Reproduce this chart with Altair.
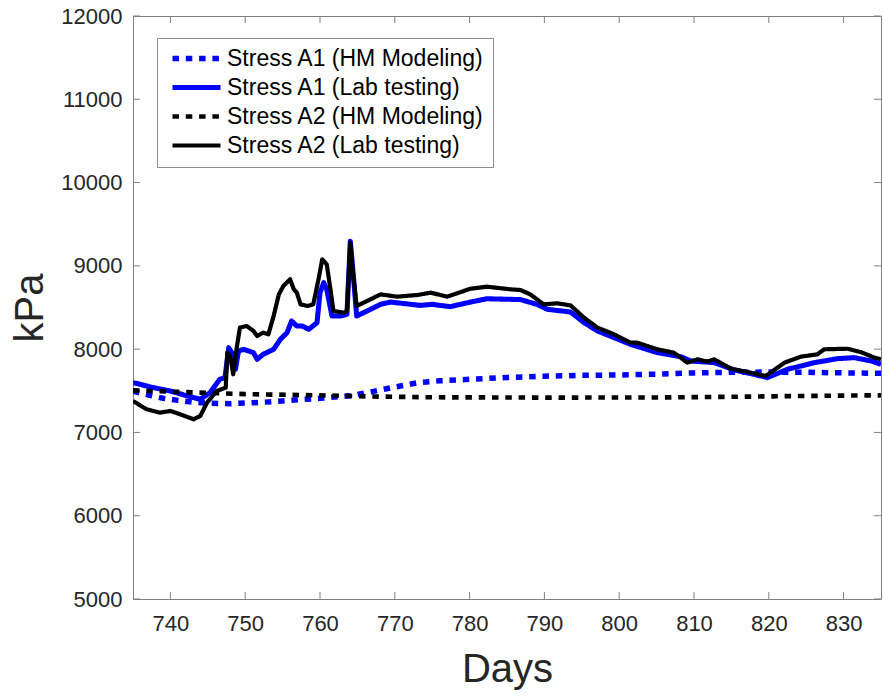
import altair as alt
import pandas as pd

# ---------------- data ----------------
names = [
    "Stress A1 (HM Modeling)",
    "Stress A1 (Lab testing)",
    "Stress A2 (HM Modeling)",
    "Stress A2 (Lab testing)",
]
colors = ["#0000ff", "#0000ff", "#000000", "#000000"]

a1_hm_days = [735, 737, 739, 741, 743, 745, 748, 752, 756, 760, 764, 767, 770, 773, 776, 780,
              785, 790, 795, 800, 805, 810, 815, 820, 825, 830, 835]
a1_hm_kpa = [7495, 7450, 7410, 7385, 7365, 7350, 7345, 7360, 7385, 7410, 7440, 7490, 7545, 7595,
             7620, 7638, 7660, 7675, 7685, 7690, 7700, 7715, 7722, 7725, 7722, 7715, 7710]

a2_hm_days = [735, 740, 745, 750, 760, 768, 775, 790, 805, 815, 825, 835]
a2_hm_kpa = [7505, 7490, 7475, 7460, 7445, 7430, 7422, 7418, 7420, 7428, 7438, 7446]

a1_lab_days = [735.0, 736.3, 737.7, 740.0, 742.0, 743.1, 744.0, 745.3, 746.6, 747.3, 747.8, 748.2,
               748.7, 749.1, 749.8, 751.1, 751.6, 752.4, 753.8, 754.7, 755.6, 756.2, 756.9, 757.6,
               758.5, 759.6, 760.0, 760.5, 760.9, 761.6, 762.7, 763.6, 764.05, 764.5, 764.9, 766.3,
               768.1, 769.4, 771.5, 773.4, 775.0, 777.4, 780.1, 782.3, 786.8, 789.0, 790.4, 793.5,
               795.3, 797.1, 799.3, 801.5, 805.1, 808.2, 809.6, 812.7, 815.4, 818.0, 819.8, 822.5,
               826.1, 829.2, 831.4, 833.7, 835.0]
a1_lab_kpa = [7598, 7570, 7538, 7497, 7445, 7418, 7398, 7478, 7638, 7658, 8018, 7958,
              7758, 7978, 7998, 7958, 7878, 7938, 7998, 8118, 8198, 8338, 8278, 8278,
              8238, 8318, 8678, 8798, 8718, 8398, 8398, 8418, 9296, 8838, 8398, 8458,
              8538, 8565, 8545, 8525, 8538, 8510, 8565, 8605, 8595, 8538, 8478, 8446,
              8318, 8218, 8138, 8058, 7958, 7910, 7858, 7838, 7750, 7698, 7658, 7758,
              7838, 7886, 7898, 7858, 7818]

a2_lab_days = [735.0, 736.8, 738.6, 740.0, 741.3, 743.1, 744.0, 744.9, 746.2, 747.4, 747.6, 748.0,
               748.4, 748.9, 749.3, 750.2, 751.1, 751.6, 752.4, 753.1, 753.8, 754.5, 755.1, 756.0,
               756.5, 756.9, 757.4, 758.3, 759.1, 759.8, 760.3, 760.9, 761.4, 761.8, 763.2, 763.6,
               764.05, 764.5, 764.9, 766.3, 768.1, 770.3, 773.0, 774.8, 777.0, 780.1, 782.3, 785.5,
               786.8, 788.1, 789.9, 791.7, 793.5, 795.3, 797.1, 799.3, 801.5, 802.4, 805.1, 807.3,
               809.1, 810.5, 811.8, 812.7, 814.9, 817.2, 819.6, 822.1, 824.3, 826.5, 827.4, 830.5,
               832.3, 834.1, 835.0]
a2_lab_kpa = [7378, 7278, 7238, 7258, 7218, 7158, 7198, 7358, 7498, 7538, 7958, 7918,
              7698, 8038, 8258, 8278, 8218, 8158, 8198, 8178, 8398, 8658, 8758, 8838,
              8718, 8678, 8538, 8518, 8538, 8838, 9078, 9018, 8718, 8458, 8438, 8458,
              9278, 8838, 8518, 8578, 8658, 8630, 8650, 8678, 8630, 8725, 8750, 8718,
              8710, 8658, 8538, 8550, 8525, 8378, 8258, 8178, 8078, 8078, 7998, 7958,
              7838, 7878, 7850, 7878, 7766, 7725, 7678, 7838, 7910, 7938, 7998, 8005,
              7965, 7898, 7878]

x_ticks = [740, 750, 760, 770, 780, 790, 800, 810, 820, 830]
y_ticks = [5000, 6000, 7000, 8000, 9000, 10000, 11000, 12000]

# ---------------- build table ----------------
frames = []
for i, (d, v) in enumerate([(a1_hm_days, a1_hm_kpa), (a1_lab_days, a1_lab_kpa),
                            (a2_hm_days, a2_hm_kpa), (a2_lab_days, a2_lab_kpa)]):
    frames.append(pd.DataFrame({"day": d, "kpa": v, "series": names[i], "k": i}))
df = pd.concat(frames, ignore_index=True)

W, H = 748, 583
FONT = "Liberation Sans"
AX = "#808080"
TL = 7

xscale = alt.Scale(domain=[735, 835], nice=False, zero=False)
yscale = alt.Scale(domain=[5000, 12000], nice=False, zero=False)
x_axis = alt.Axis(values=x_ticks, title="Days", format="d", labelPadding=14, titlePadding=15)
y_axis = alt.Axis(values=y_ticks, title="kPa", format="d", labelPadding=11, titlePadding=10)

dot = [6.5, 6.8]
solid = [1, 0]

lines = alt.Chart(df).mark_line(clip=True, strokeCap="butt", strokeJoin="round").encode(
    x=alt.X("day:Q", scale=xscale, axis=x_axis),
    y=alt.Y("kpa:Q", scale=yscale, axis=y_axis),
    color=alt.Color("series:N", scale=alt.Scale(domain=names, range=colors),
                    legend=alt.Legend(title=None)),
    strokeDash=alt.StrokeDash("series:N", scale=alt.Scale(domain=names, range=[dot, solid, dot, solid]),
                              legend=alt.Legend(title=None)),
    strokeWidth=alt.StrokeWidth("series:N", scale=alt.Scale(domain=names, range=[5.5, 4.2, 5.5, 4.2]),
                                legend=alt.Legend(title=None)),
    order=alt.Order("k:Q"),
)

xt = pd.DataFrame({"day": x_ticks})
yt = pd.DataFrame({"kpa": y_ticks})

bottom_ticks = alt.Chart(xt).mark_rule(color=AX, strokeWidth=1).encode(
    x=alt.X("day:Q", scale=xscale, axis=x_axis), y=alt.value(H), y2=alt.value(H - TL))
top_ticks = alt.Chart(xt).mark_rule(color=AX, strokeWidth=1).encode(
    x=alt.X("day:Q", scale=xscale, axis=x_axis), y=alt.value(0), y2=alt.value(TL))
left_ticks = alt.Chart(yt).mark_rule(color=AX, strokeWidth=1).encode(
    y=alt.Y("kpa:Q", scale=yscale, axis=y_axis), x=alt.value(0), x2=alt.value(TL))
right_ticks = alt.Chart(yt).mark_rule(color=AX, strokeWidth=1).encode(
    y=alt.Y("kpa:Q", scale=yscale, axis=y_axis), x=alt.value(W), x2=alt.value(W - TL))

chart = alt.layer(lines, bottom_ticks, top_ticks, left_ticks, right_ticks).properties(
    width=W, height=H,
    autosize=alt.AutoSizeParams(type="none"),
    padding={"left": 133, "top": 16, "right": 2, "bottom": 97},
    background="white",
).configure_view(
    stroke=AX, strokeWidth=1
).configure_axis(
    grid=False, ticks=False, domain=False,
    labelFont=FONT, labelFontSize=22, labelColor="#262626",
    titleFont=FONT, titleFontSize=40, titleFontWeight="normal", titleColor="#262626",
).configure_legend(
    orient="none", legendX=24, legendY=22,
    symbolType="M-1,0H8.6", symbolSize=100, symbolStrokeWidth=4,
    labelFont=FONT, labelFontSize=23, labelColor="#000000", labelLimit=400,
    labelOffset=38, padding=9, rowPadding=5,
    strokeColor="#8c8c8c", fillColor="white", cornerRadius=0,
)

chart.save("out.html", embed_options={"renderer": "svg", "actions": False})
